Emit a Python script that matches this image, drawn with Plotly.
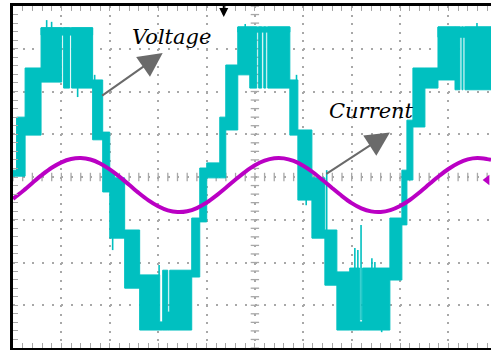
import numpy as np
import plotly.graph_objects as go

# Scope settings: 5 ms/div, voltage 100 V/div, current 5 A/div
T_END = 49.4
V_RANGE = [-400, 400]
I_RANGE = [-19.61, 20.32]

CYAN = "#00C0C0"
MAGENTA = "#BA00C4"
GRID = "#A8A8A8"
ARROW = "#6A6A6A"
SERIF = "DejaVu Serif"

# Multilevel inverter output voltage: PWM bands between adjacent levels
# start (ms), end (ms), upper level (V), lower level (V)
band_t0 = [0.00, 0.37, 1.25, 2.90, 2.90, 5.23, 6.06, 8.23, 9.27, 10.00, 10.51, 11.54,
           13.09, 15.47, 16.20, 15.16, 15.99, 18.47, 19.30, 20.02, 21.37, 21.99,
           23.23, 23.23, 24.47, 25.39, 25.92, 26.33, 28.61, 29.44, 30.89, 32.23,
           33.47, 34.80, 36.13, 35.82, 38.95, 40.19, 40.71, 41.33, 42.57,
           43.92, 43.92, 45.68, 46.40, 46.71]
band_t1 = [0.37, 1.25, 2.90, 8.23, 5.03, 5.85, 8.23, 9.27, 10.00, 10.51, 11.54, 13.09,
           15.16, 15.99, 18.47, 15.47, 16.20, 19.30, 20.02, 21.37, 21.99, 23.23,
           28.61, 24.47, 25.19, 25.70, 26.12, 28.61, 29.44, 30.89, 32.23, 33.47,
           34.80, 35.82, 38.95, 36.13, 40.19, 40.71, 41.33, 42.57, 43.92,
           49.40, 45.68, 46.19, 46.50, 49.40]
band_hi = [16, 140, 255, 349, 349, 349, 349, 227, 105, 12, -2, -124,
           -229, -218, -218, -339, -316, -96, 21, 33, 140, 262,
           351, 351, 351, 351, 351, 351, 227, 110, -2, -124,
           -222, -213, -213, -339, -96, 16, 133, 255, 255,
           351, 351, 351, 351, 351]
band_lo = [2, 2, 98, 332, 222, 208, 208, 87, -35, -143, -143, -260,
           -358, -358, -358, -358, -358, -234, -105, -2, -2, 110,
           339, 239, 208, 208, 208, 208, 98, -54, -143, -253,
           -358, -358, -358, -358, -241, -112, -7, 117, 208,
           327, 227, 204, 204, 204]

# Isolated switching spikes: time (ms), from (V), to (V)
spike_t = [3.48, 3.99, 6.68, 8.44, 10.30, 15.10, 24.00, 29.30, 30.30, 32.42,
           35.33, 35.64, 35.97, 37.09, 37.40, 38.10, 47.95]
spike_v0 = [349, 349, 208, 227, -143, -229, 351, 227, -54, 16,
            -213, -213, -112, -213, -213, -358, 351]
spike_v1 = [367, 363, 187, 239, -171, -206, 358, 239, -66, -131,
            -166, -171, -335, -190, -199, -363, 360]

# Load current (A), sampled every 1 ms
cur_t = list(range(50)) + [49.4]
cur_i = [-2.19, -1.30, -0.34, 0.60, 1.43, 2.07, 2.46, 2.57, 2.40, 1.94,
         1.25, 0.40, -0.55, -1.51, -2.37, -3.06, -3.54, -3.74, -3.65, -3.27,
         -2.64, -1.82, -0.90, 0.06, 0.96, 1.72, 2.26, 2.54, 2.53, 2.23,
         1.68, 0.91, 0.00, -0.95, -1.87, -2.69, -3.30, -3.66, -3.73, -3.52,
         -3.04, -2.33, -1.45, -0.50, 0.44, 1.29, 1.96, 2.41, 2.57, 2.44, 2.35]

fig = go.Figure()

# Graticule tick marks along the centre cross
minor_t = np.arange(0, T_END + 1e-9, 1.0)
minor_v = np.arange(-400, 401, 20)
fig.add_trace(go.Scatter(
    x=minor_t, y=np.zeros_like(minor_t), mode="markers", hoverinfo="skip", showlegend=False,
    marker=dict(symbol="line-ns", size=6, line=dict(width=1.3, color=GRID)),
))
fig.add_trace(go.Scatter(
    x=np.full(len(minor_v), 25.0), y=minor_v, mode="markers", hoverinfo="skip", showlegend=False,
    marker=dict(symbol="line-ew", size=6, line=dict(width=1.3, color=GRID)),
))

# Voltage bands as closed polygons
vx, vy = [], []
for t0, t1, hi, lo in zip(band_t0, band_t1, band_hi, band_lo):
    vx += [t0, t1, t1, t0, t0, None]
    vy += [hi, hi, lo, lo, hi, None]
fig.add_trace(go.Scatter(
    x=vx, y=vy, mode="lines", fill="toself", fillcolor=CYAN,
    line=dict(color=CYAN, width=1), hoverinfo="skip", showlegend=False,
))

sx, sy = [], []
for t, a, b in zip(spike_t, spike_v0, spike_v1):
    sx += [t, t, None]
    sy += [a, b, None]
fig.add_trace(go.Scatter(
    x=sx, y=sy, mode="lines", line=dict(color=CYAN, width=1.6),
    hoverinfo="skip", showlegend=False,
))

# Current on its own channel scale
fig.add_trace(go.Scatter(
    x=cur_t, y=cur_i, mode="lines", yaxis="y2",
    line=dict(color=MAGENTA, width=4, shape="spline", smoothing=0.8),
    hoverinfo="skip", showlegend=False,
))
# Channel 2 ground marker
fig.add_trace(go.Scatter(
    x=[49.0], y=[0], mode="markers", yaxis="y2", cliponaxis=False,
    marker=dict(symbol="triangle-left", size=9, color=MAGENTA),
    hoverinfo="skip", showlegend=False,
))

label_font = dict(family=SERIF, size=21, color="black", style="italic")
annotations = [
    dict(x=16.4, y=328, xref="x", yref="y", text="Voltage", showarrow=False,
         font=label_font, xanchor="center", yanchor="middle"),
    dict(x=37.1, y=155, xref="x", yref="y", text="Current", showarrow=False,
         font=label_font, xanchor="center", yanchor="middle"),
    dict(x=15.47, y=290, ax=9.06, ay=188, xref="x", yref="y", axref="x", ayref="y",
         text="", showarrow=True, arrowhead=2, arrowsize=2.4, arrowwidth=2,
         arrowcolor=ARROW, standoff=0),
    dict(x=38.95, y=104, ax=32.23, ay=5, xref="x", yref="y", axref="x", ayref="y",
         text="", showarrow=True, arrowhead=2, arrowsize=2.4, arrowwidth=2,
         arrowcolor=ARROW, standoff=0),
    # trigger position marker
    dict(x=21.78, y=0.968, xref="x", yref="paper", ax=0, ay=-13,
         text="", showarrow=True, arrowhead=2, arrowsize=0.9, arrowwidth=2,
         arrowcolor="black", standoff=0),
]

fig.update_layout(
    width=491, height=350, autosize=False,
    margin=dict(l=13, r=0, t=6, b=2, pad=0),
    font=dict(family=SERIF, size=21, color="black"),
    paper_bgcolor="white", plot_bgcolor="white",
    showlegend=False,
    annotations=annotations,
    xaxis=dict(
        range=[0, T_END], tick0=0, dtick=5,
        showgrid=True, gridcolor=GRID, gridwidth=1.6, griddash="2px,6.55px",
        showline=True, linecolor="black", linewidth=3, mirror="allticks",
        ticks="inside", ticklen=5, tickcolor=GRID, tickwidth=1.3,
        showticklabels=False, zeroline=False,
        minor=dict(dtick=1, ticks="inside", ticklen=5, tickcolor=GRID, tickwidth=1.3,
                   showgrid=False),
    ),
    yaxis=dict(
        range=V_RANGE, tick0=0, dtick=100,
        showgrid=True, gridcolor=GRID, gridwidth=1.6, griddash="2px,7.67px",
        showline=True, linecolor="black", linewidth=3, mirror=False,
        ticks="inside", ticklen=5, tickcolor=GRID, tickwidth=1.3,
        showticklabels=False, zeroline=False,
        minor=dict(dtick=20, ticks="inside", ticklen=5, tickcolor=GRID, tickwidth=1.3,
                   showgrid=False),
    ),
    yaxis2=dict(range=I_RANGE, overlaying="y", visible=False, showgrid=False,
                zeroline=False),
)

fig.write_html("out.html")
